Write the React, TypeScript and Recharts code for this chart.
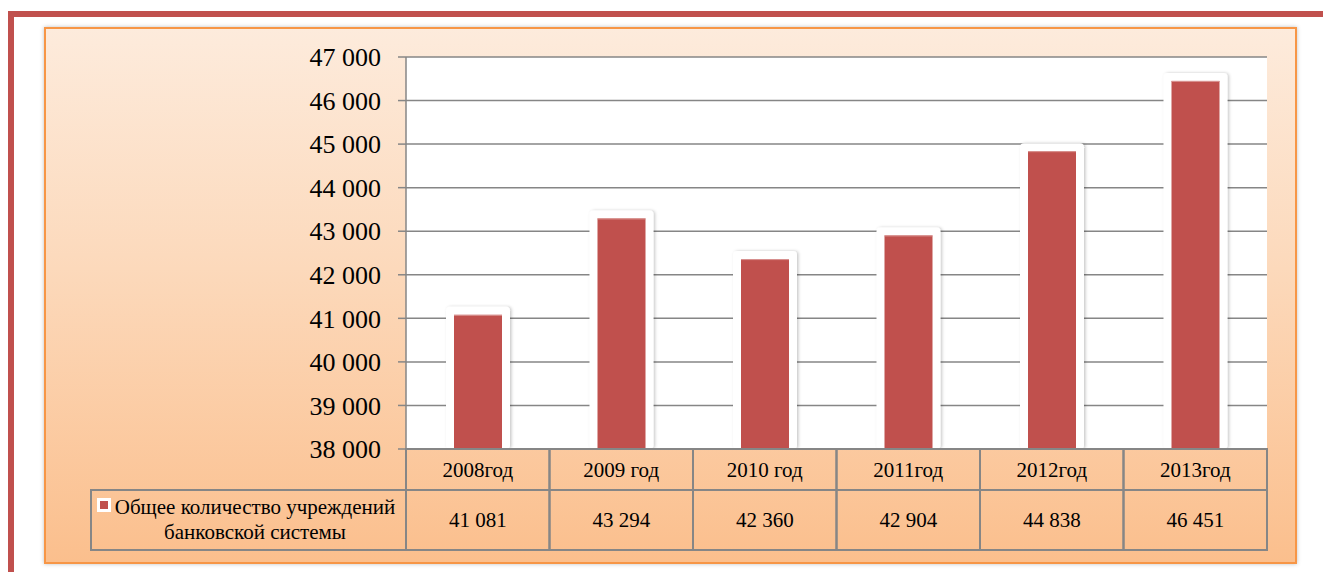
import React from 'react';
import { BarChart, Bar, XAxis, YAxis, CartesianGrid } from 'recharts';

// --- data ---
const years = ['2008год', '2009 год', '2010 год', '2011год', '2012год', '2013год'];
const institutions = [41081, 43294, 42360, 42904, 44838, 46451];
const yTicks = [38000, 39000, 40000, 41000, 42000, 43000, 44000, 45000, 46000, 47000];
const seriesLines = ['Общее количество учреждений', 'банковской системы'];

const data = years.map((year, i) => ({ year, value: institutions[i] }));

// --- layout ---
const CHART_W = 1253;
const CHART_H = 537;
const MARGIN = { top: 30, right: 30, left: 0, bottom: 0 };
const Y_AXIS_W = 362;
const X_AXIS_H = 115;
const PLOT_W = CHART_W - MARGIN.left - MARGIN.right - Y_AXIS_W;
const HEAD_H = 41;
const ROW_H = 60;

const BAR_RED = '#c0504d';
const GRID = '#868686';
const FONT = 'Liberation Serif, Times New Roman, serif';

const fmt = (n: number) => String(n).replace(/\B(?=(\d{3})+(?!\d))/g, ' ');

const GlowBar = (props: any) => {
    const { x, y, width, height } = props;
    const pad = 8;
    return (
        <g>
            <rect
                x={x - pad}
                y={y - pad}
                width={width + pad * 2}
                height={height + pad}
                rx={4}
                fill="#fff"
                filter="url(#barGlow)"
            />
            <rect x={x} y={y} width={width} height={height} fill={BAR_RED} />
            <line x1={x} x2={x + width} y1={y + 0.5} y2={y + 0.5} stroke="#d99694" strokeWidth={1} />
        </g>
    );
};

// the data table under the plot is drawn as the x axis ticks
const TableTick = (props: any) => {
    const { x, y, payload } = props;
    const i = payload.index;
    const cellW = PLOT_W / years.length;
    const left = x - cellW / 2;
    const legendLeft = 47;
    const txt = { fontFamily: FONT, fontSize: 21, fill: '#000' };
    return (
        <g>
            <rect x={left} y={y} width={cellW} height={HEAD_H} fill="none" stroke={GRID} strokeWidth={2} />
            <rect x={left} y={y + HEAD_H} width={cellW} height={ROW_H} fill="none" stroke={GRID} strokeWidth={2} />
            <text x={x} y={y + HEAD_H / 2 + 7} textAnchor="middle" {...txt}>
                {payload.value}
            </text>
            <text x={x} y={y + HEAD_H + ROW_H / 2 + 7} textAnchor="middle" {...txt}>
                {fmt(institutions[i])}
            </text>
            {i === 0 && (
                <g>
                    <rect
                        x={legendLeft}
                        y={y + HEAD_H}
                        width={left - legendLeft}
                        height={ROW_H}
                        fill="none"
                        stroke={GRID}
                        strokeWidth={2}
                    />
                    <rect x={53} y={y + 49} width={14} height={14} fill="#fff" />
                    <rect x={56} y={y + 52} width={8} height={8} fill={BAR_RED} />
                    <text x={211} y={y + 65} textAnchor="middle" {...txt}>
                        {seriesLines[0]}
                    </text>
                    <text x={211} y={y + 90} textAnchor="middle" {...txt}>
                        {seriesLines[1]}
                    </text>
                </g>
            )}
        </g>
    );
};

export default function App() {
    return (
        <div style={{ position: 'absolute', left: 0, top: 0, width: 1323, height: 572, background: '#fff', overflow: 'hidden' }}>
            <div style={{ position: 'absolute', left: 8, top: 11, width: 1315, height: 6, background: BAR_RED }} />
            <div style={{ position: 'absolute', left: 8, top: 11, width: 6, height: 561, background: BAR_RED }} />
            <div
                style={{
                    position: 'absolute',
                    left: 44,
                    top: 27,
                    width: CHART_W,
                    height: CHART_H,
                    boxSizing: 'border-box',
                    border: '2px solid #f79646',
                    background: 'linear-gradient(to bottom, #fdebdc 0%, #fcd9bb 45%, #fbbf8d 100%)',
                    boxShadow: '0 0 4px rgba(0,0,0,0.25)',
                }}
            />
            <div style={{ position: 'absolute', left: 44, top: 27 }}>
                <BarChart width={CHART_W} height={CHART_H} data={data} margin={MARGIN} barSize={48}>
                    <defs>
                        <filter id="barGlow" x="-30%" y="-10%" width="160%" height="120%">
                            <feDropShadow dx={1.5} dy={0} stdDeviation={1.5} floodColor="#000" floodOpacity={0.22} />
                        </filter>
                    </defs>
                    <CartesianGrid vertical={false} stroke={GRID} strokeWidth={1.5} fill="#fff" fillOpacity={1} />
                    <XAxis
                        dataKey="year"
                        height={X_AXIS_H}
                        axisLine={false}
                        tickLine={false}
                        tickSize={0}
                        tickMargin={0}
                        interval={0}
                        tick={<TableTick />}
                    />
                    <YAxis
                        width={Y_AXIS_W}
                        domain={[38000, 47000]}
                        ticks={yTicks}
                        allowDataOverflow
                        tickFormatter={fmt}
                        axisLine={{ stroke: GRID, strokeWidth: 1.5 }}
                        tickLine={{ stroke: GRID, strokeWidth: 1.5 }}
                        tickSize={8}
                        tickMargin={17}
                        tick={{ fontFamily: FONT, fontSize: 26, fill: '#000' }}
                    />
                    <Bar dataKey="value" fill={BAR_RED} shape={<GlowBar />} isAnimationActive={false} />
                </BarChart>
            </div>
        </div>
    );
}
